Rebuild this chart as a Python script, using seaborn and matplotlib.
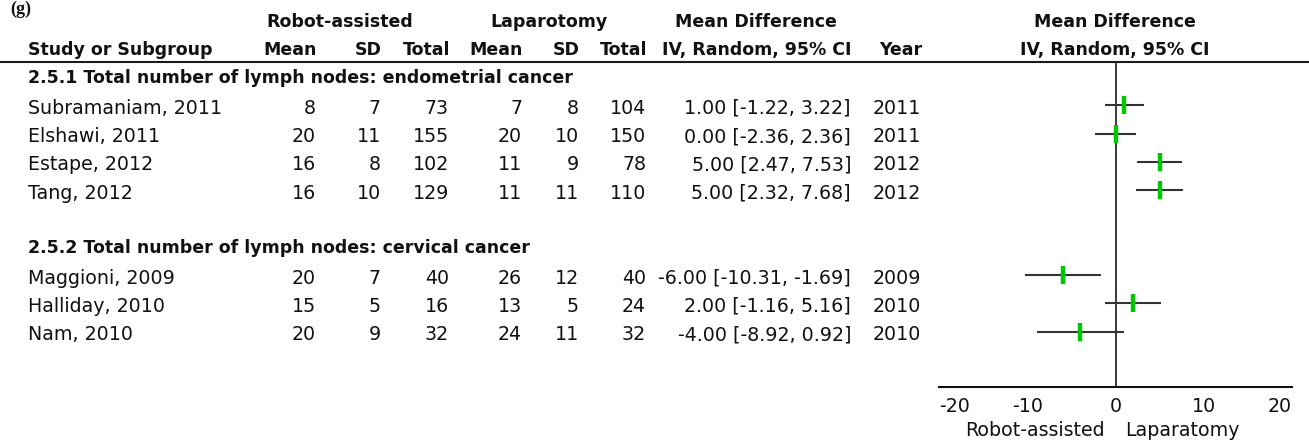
import matplotlib
matplotlib.use("Agg")
import matplotlib.pyplot as plt
import seaborn as sns
import pandas as pd

# ---- data -------------------------------------------------------------
studies = ["Subramaniam, 2011", "Elshawi, 2011", "Estape, 2012", "Tang, 2012",
           "Maggioni, 2009", "Halliday, 2010", "Nam, 2010"]
subgroup_idx = [0, 0, 0, 0, 1, 1, 1]
subgroups = ["2.5.1 Total number of lymph nodes: endometrial cancer",
             "2.5.2 Total number of lymph nodes: cervical cancer"]
robot_mean = [8, 20, 16, 16, 20, 15, 20]
robot_sd = [7, 11, 8, 10, 7, 5, 9]
robot_total = [73, 155, 102, 129, 40, 16, 32]
lap_mean = [7, 20, 11, 11, 26, 13, 24]
lap_sd = [8, 10, 9, 11, 12, 5, 11]
lap_total = [104, 150, 78, 110, 40, 24, 32]
mean_diff = [1.00, 0.00, 5.00, 5.00, -6.00, 2.00, -4.00]
ci_low = [-1.22, -2.36, 2.47, 2.32, -10.31, -1.16, -8.92]
ci_high = [3.22, 2.36, 7.53, 7.68, -1.69, 5.16, 0.92]
years = [2011, 2011, 2012, 2012, 2009, 2010, 2010]
x_ticks = [-20, -10, 0, 10, 20]
favours = ["Robot-assisted", "Laparatomy"]

# ---- style ------------------------------------------------------------
sns.set_style("white")
plt.rcParams["font.family"] = ["DejaVu Sans"]
plt.rcParams["axes.unicode_minus"] = False

W, H = 1309, 442
fig = plt.figure(figsize=(W / 100, H / 100), dpi=100)

# text layer in pixel units (y grows downward)
ax_t = fig.add_axes([0, 0, 1, 1])
ax_t.set_xlim(0, W)
ax_t.set_ylim(H, 0)
ax_t.axis("off")

REG = 13.7   # pt, regular table text
BOLD = 12.5  # pt, bold headings
REG_HALF_CAP = 7.0
BOLD_HALF_CAP = 6.3
INK = "#111111"


def txt(x, yc, s, ha="left", bold=False, **kw):
    """Place text with its cap-height centred on row line yc."""
    if bold:
        ax_t.text(x, yc + BOLD_HALF_CAP, s, ha=ha, va="baseline",
                  fontsize=BOLD, fontweight="bold", color=INK, **kw)
    else:
        ax_t.text(x, yc + REG_HALF_CAP, s, ha=ha, va="baseline",
                  fontsize=REG, color=INK, **kw)


# panel letter
ax_t.text(10, 14, "(g)", ha="left", va="baseline", fontsize=13,
          fontweight="bold", family="Liberation Serif", color=INK)

# column right edges
X_NAME = 28
X_RM, X_RSD, X_RN = 316, 381, 449
X_LM, X_LSD, X_LN = 522, 579, 646
X_CI, X_YEAR = 851, 921
X_ZERO_HDR = 1115

Y_H1, Y_H2, Y_RULE = 21, 49, 62
Y_FIRST = 77
PITCH = 28.3

# header rows
txt(340, Y_H1, "Robot-assisted", ha="center", bold=True)
txt(549, Y_H1, "Laparotomy", ha="center", bold=True)
txt(756, Y_H1, "Mean Difference", ha="center", bold=True)
txt(X_ZERO_HDR, Y_H1, "Mean Difference", ha="center", bold=True)

txt(X_NAME, Y_H2, "Study or Subgroup", bold=True)
for xr, lab in [(X_RM, "Mean"), (X_RSD, "SD"), (X_RN, "Total"),
                (X_LM, "Mean"), (X_LSD, "SD"), (X_LN, "Total"),
                (X_CI, "IV, Random, 95% CI"), (X_YEAR, "Year")]:
    txt(xr + 1, Y_H2, lab, ha="right", bold=True)
txt(X_ZERO_HDR, Y_H2, "IV, Random, 95% CI", ha="center", bold=True)

ax_t.plot([0, W], [Y_RULE, Y_RULE], color="#1a1a1a", lw=1.5,
          solid_capstyle="butt")

# build row positions: heading, studies, blank, heading, studies
row_y = []
line = 0
for g, name in enumerate(subgroups):
    txt(X_NAME, Y_FIRST + line * PITCH, name, bold=True)
    line += 1
    for i, sg in enumerate(subgroup_idx):
        if sg == g:
            row_y.append(Y_FIRST + line * PITCH)
            line += 1
    line += 1  # blank spacer row

for i, y in enumerate(row_y):
    yc = y + 1.5
    txt(X_NAME, yc, studies[i])
    txt(X_RM, yc, str(robot_mean[i]), ha="right")
    txt(X_RSD, yc, str(robot_sd[i]), ha="right")
    txt(X_RN, yc, str(robot_total[i]), ha="right")
    txt(X_LM, yc, str(lap_mean[i]), ha="right")
    txt(X_LSD, yc, str(lap_sd[i]), ha="right")
    txt(X_LN, yc, str(lap_total[i]), ha="right")
    txt(X_CI, yc, f"{mean_diff[i]:.2f} [{ci_low[i]:.2f}, {ci_high[i]:.2f}]",
        ha="right")
    txt(X_YEAR, yc, str(years[i]), ha="right")

# ---- forest panel -----------------------------------------------------
X_LEFT, X_RIGHT, Y_AXIS = 939, 1292, 387
ax_f = fig.add_axes([X_LEFT / W, (H - Y_AXIS) / H,
                     (X_RIGHT - X_LEFT) / W, (Y_AXIS - Y_RULE) / H])
ax_f.set_facecolor("none")
ax_f.set_xlim(min(x_ticks), max(x_ticks))
ax_f.set_ylim(Y_AXIS, Y_RULE)

df = pd.DataFrame({"md": mean_diff, "lo": ci_low, "hi": ci_high, "y": row_y})

ax_f.axvline(0, color="#2a2a2a", lw=1.3, zorder=1)
ax_f.hlines(df["y"], df["lo"], df["hi"], color="#333333", lw=1.5, zorder=2)
sns.scatterplot(data=df, x="md", y="y", marker="|", s=150, color="#00c800",
                linewidth=3.2, ax=ax_f, zorder=3, legend=False)

for side in ["top", "left", "right"]:
    ax_f.spines[side].set_visible(False)
ax_f.spines["bottom"].set_color("#111111")
ax_f.spines["bottom"].set_linewidth(1.5)
ax_f.set_yticks([])
ax_f.set_xticks(x_ticks)
ax_f.set_xticklabels([str(t) for t in x_ticks])
ax_f.set_xticks([min(x_ticks), max(x_ticks)], minor=True)
ax_f.tick_params(axis="x", which="major", direction="in", length=5.5,
                 width=1.5, color="#111111", labelsize=REG, pad=7,
                 labelcolor=INK)
ax_f.tick_params(axis="x", which="minor", direction="out", length=5.5,
                 width=1.5, color="#111111")
# keep the end labels inside the axis span
tick_labels = ax_f.get_xticklabels()
tick_labels[0].set_horizontalalignment("left")
tick_labels[-1].set_horizontalalignment("right")
ax_f.set_xlabel("")
ax_f.set_ylabel("")

# favours labels under the axis
Y_FAV = 429
txt(1105, Y_FAV, favours[0], ha="right")
txt(1125, Y_FAV, favours[1], ha="left")

fig.savefig("out.png", dpi=100)
